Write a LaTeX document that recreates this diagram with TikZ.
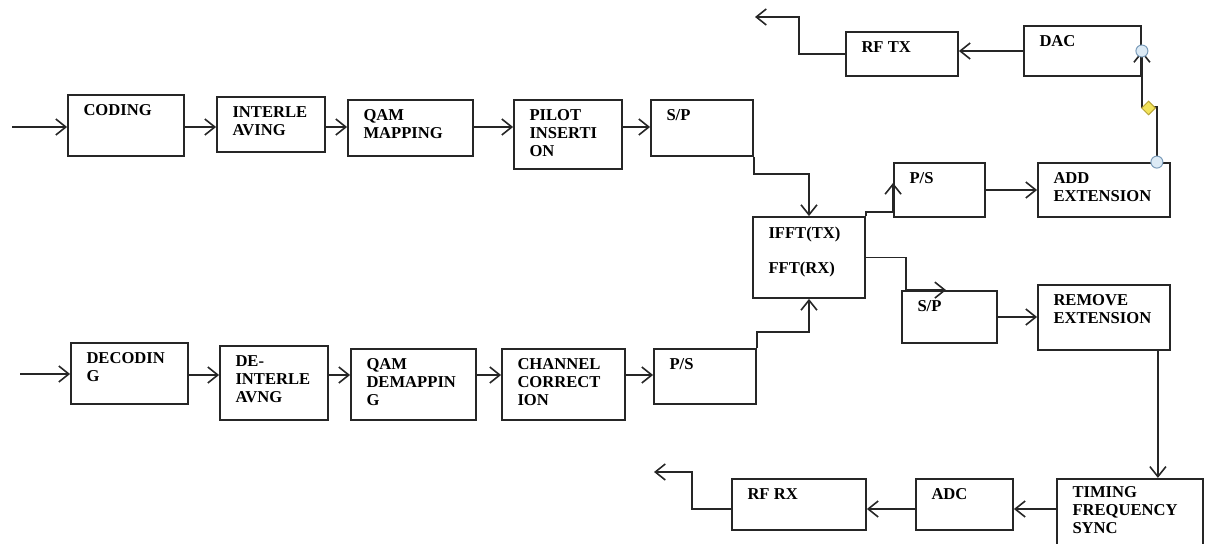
\documentclass[tikz,border=0pt]{standalone}
\usepackage{fontspec}
\setmainfont{Liberation Serif}
\usetikzlibrary{arrows.meta,shapes.geometric}
\definecolor{hdlfill}{HTML}{DCEAF5}
\definecolor{hdldraw}{HTML}{7B9CBA}
\definecolor{dmdfill}{HTML}{F2E35A}
\definecolor{dmddraw}{HTML}{B8A436}

\begin{document}
\begin{tikzpicture}[x=0.5pt,y=-0.5pt,
  blk/.style={rectangle,draw=black!85,line width=0.9pt,inner sep=0pt},
  lbl/.style={anchor=north west,xshift=8pt,yshift=-5pt,inner sep=0pt,align=left,
    font=\bfseries\fontsize{8.3}{9}\selectfont},
  arr/.style={draw=black!85,line width=0.8pt,-{Straight Barb[length=5pt,width=8pt]}},
  hdl/.style={circle,draw=hdldraw,fill=hdlfill,line width=0.5pt,minimum size=6pt,inner sep=0pt},
  dmd/.style={diamond,draw=dmddraw,fill=dmdfill,line width=0.5pt,minimum size=7pt,inner sep=0pt}]
\useasboundingbox (0,0) rectangle (1206,544);

% transmitter chain
\node (cod) at (126,125.5) [blk,minimum width=58pt,minimum height=30.5pt,label={[lbl]north west:CODING}] {};
\node (intl) at (271,124.5) [blk,minimum width=54pt,minimum height=27.5pt,label={[lbl]north west:{INTERLE\\AVING}}] {};
\node (qam) at (410.5,128) [blk,minimum width=62.5pt,minimum height=28pt,label={[lbl]north west:{QAM\\MAPPING}}] {};
\node (pil) at (568,134.5) [blk,minimum width=54pt,minimum height=34.5pt,label={[lbl]north west:{PILOT\\INSERTI\\ON}}] {};
\node (sp) at (702,128) [blk,minimum width=51pt,minimum height=28pt,label={[lbl]north west:S/P}] {};
\node (fft) at (809,257.5) [blk,minimum width=56pt,minimum height=40.5pt,label={[lbl]north west:{IFFT(TX)\\[8.5pt]FFT(RX)}}] {};
\node (ps) at (939.5,190) [blk,minimum width=45.5pt,minimum height=27pt,label={[lbl]north west:P/S}] {};
\node (addx) at (1104,190) [blk,minimum width=66pt,minimum height=27pt,label={[lbl]north west:{ADD\\EXTENSION}}] {};
\node (dac) at (1082.5,51) [blk,minimum width=58.5pt,minimum height=25pt,label={[lbl]north west:DAC}] {};
\node (rftx) at (902,54) [blk,minimum width=56pt,minimum height=22pt,label={[lbl]north west:RF TX}] {};

% receiver chain
\node (dec) at (129.5,373.5) [blk,minimum width=58.5pt,minimum height=30.5pt,label={[lbl]north west:{DECODIN\\G}}] {};
\node (dint) at (274,383) [blk,minimum width=54pt,minimum height=37pt,label={[lbl]north west:{DE-\\INTERLE\\AVNG}}] {};
\node (qamd) at (413.5,384.5) [blk,minimum width=62.5pt,minimum height=35.5pt,label={[lbl]north west:{QAM\\DEMAPPIN\\G}}] {};
\node (chc) at (563.5,384.5) [blk,minimum width=61.5pt,minimum height=35.5pt,label={[lbl]north west:{CHANNEL\\CORRECT\\ION}}] {};
\node (psr) at (705,376.5) [blk,minimum width=51pt,minimum height=27.5pt,label={[lbl]north west:P/S}] {};
\node (spr) at (949.5,317) [blk,minimum width=47.5pt,minimum height=26pt,label={[lbl]north west:S/P}] {};
\node (rmx) at (1104,317.5) [blk,minimum width=66pt,minimum height=32.5pt,label={[lbl]north west:{REMOVE\\EXTENSION}}] {};
\node (tfs) at (1130,515.5) [blk,minimum width=73pt,minimum height=36.5pt,label={[lbl,yshift=1pt]north west:{TIMING\\FREQUENCY\\SYNC}}] {};
\node (adc) at (964.5,504.5) [blk,minimum width=48.5pt,minimum height=25.5pt,label={[lbl]north west:ADC}] {};
\node (rfrx) at (799,504.5) [blk,minimum width=67pt,minimum height=25.5pt,label={[lbl]north west:RF RX}] {};

\coordinate (i1) at (12,127);
\coordinate (i2) at (20,374);
\coordinate (o1) at (755,17);
\coordinate (o2) at (654,472);
\coordinate (r1) at (0,127);
\coordinate (r2) at (0,375);
\coordinate (r3) at (0,509);

\draw[arr] (i1) -- (i1 -| cod.west);
\draw[arr] (cod.east |- r1) -- (intl.west |- r1);
\draw[arr] (intl.east |- r1) -- (qam.west |- r1);
\draw[arr] (qam.east |- r1) -- (pil.west |- r1);
\draw[arr] (pil.east |- r1) -- (sp.west |- r1);
\draw[arr] (sp.south east) -- ++(0,17) -| (fft.north);
\draw[arr] (fft.north east) -- ++(0,-4) -| ([yshift=17.5pt]ps.south west);
\draw[arr] (ps) -- (addx);
\draw[arr] ([xshift=-7pt]addx.north east) coordinate (hs) -- ++(0,-55) -| (dac.east);
\draw[arr] (dac) -- (dac -| rftx.east);
\draw[arr] (rftx.west) -- ++(-46,0) |- (o1);

\draw[arr] (i2) -- (i2 -| dec.west);
\draw[arr] (dec.east |- r2) -- (dint.west |- r2);
\draw[arr] (dint.east |- r2) -- (qamd.west |- r2);
\draw[arr] (qamd.east |- r2) -- (chc.west |- r2);
\draw[arr] (chc.east |- r2) -- (psr.west |- r2);
\draw[arr] (psr.north east) -- ++(0,-16) -| (fft.south);
\draw[arr] (fft.east) -| ([xshift=2.5pt]spr.north west) -- ++(40,0);
\draw[arr] (spr) -- (spr -| rmx.west);
\draw[arr] ([xshift=-6.5pt]rmx.south east) -- ++(0,127);
\draw[arr] (tfs.west |- r3) -- (adc.east |- r3);
\draw[arr] (adc.west |- r3) -- (rfrx.east |- r3);
\draw[arr] (rfrx.west |- r3) -- ++(-39,0) |- (o2);

% connector handles
\node (h1) at (hs) [hdl] {};
\node (h2) at (dac.east) [hdl] {};
\node (h3) at (1148.5,108) [dmd] {};

\end{tikzpicture}
\end{document}
